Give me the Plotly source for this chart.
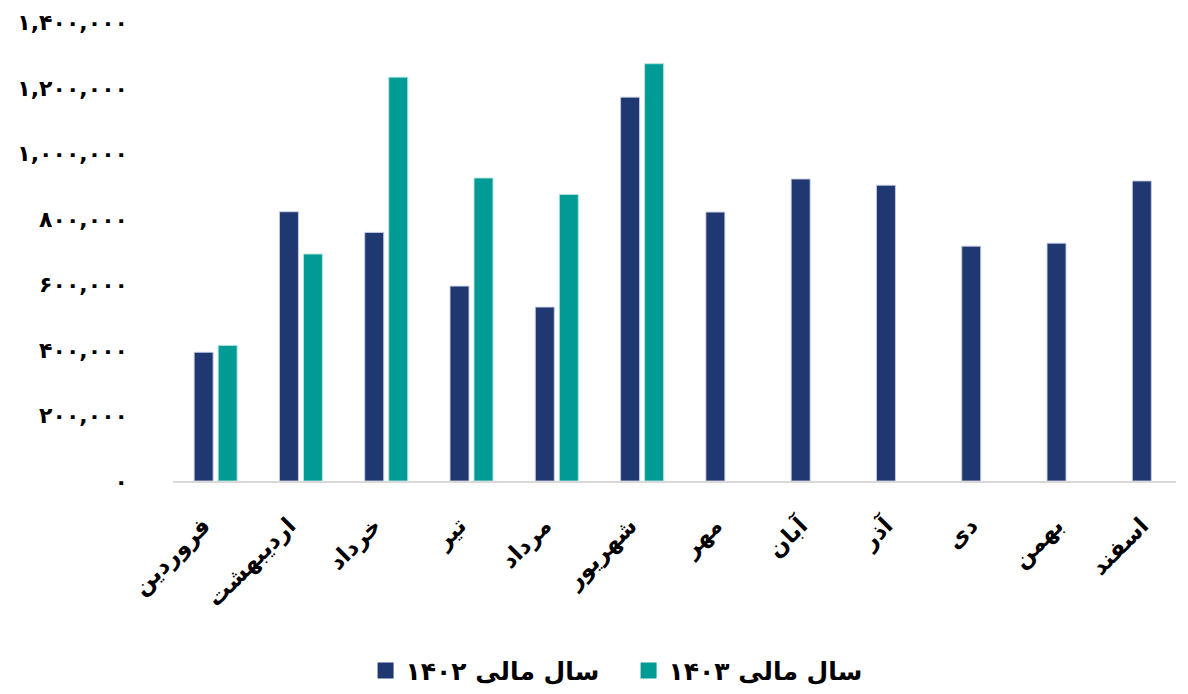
import plotly.graph_objects as go

months = ["فروردین", "اردیبهشت", "خرداد", "تیر", "مرداد", "شهریور",
          "مهر", "آبان", "آذر", "دی", "بهمن", "اسفند"]
sales_1402 = [393000, 822000, 759000, 595000, 531000, 1172000,
              821000, 922000, 903000, 717000, 726000, 916000]
sales_1403 = [414000, 693000, 1233000, 925000, 875000, 1274000,
              None, None, None, None, None, None]
series_names = ["سال مالی ۱۴۰۲", "سال مالی ۱۴۰۳"]
tick_values = [0, 200000, 400000, 600000, 800000, 1000000, 1200000, 1400000]
tick_labels = ["۰", "۲۰۰,۰۰۰", "۴۰۰,۰۰۰", "۶۰۰,۰۰۰", "۸۰۰,۰۰۰",
               "۱,۰۰۰,۰۰۰", "۱,۲۰۰,۰۰۰", "۱,۴۰۰,۰۰۰"]

NAVY = "#203871"
TEAL = "#009B94"
FONT = "DejaVu Sans"

x_idx = list(range(len(months)))

fig = go.Figure()
fig.add_trace(go.Bar(x=x_idx, y=sales_1402, name=series_names[0], showlegend=False,
                     marker=dict(color=NAVY, line=dict(color="rgba(200,205,225,0.9)", width=1))))
fig.add_trace(go.Bar(x=x_idx, y=sales_1403, name=series_names[1], showlegend=False,
                     marker=dict(color=TEAL, line=dict(color="rgba(180,230,225,0.9)", width=1))))
# legend-only entries (no marks) to get larger square swatches
for nm, col in zip(series_names, [NAVY, TEAL]):
    fig.add_trace(go.Scatter(x=[None], y=[None], mode="markers", name=nm,
                             marker=dict(symbol="square", size=22, color=col)))

fig.update_layout(
    width=1180, height=686,
    margin=dict(l=165, r=12, t=2, b=212),
    plot_bgcolor="white", paper_bgcolor="white",
    barmode="group", bargap=0.437, bargroupgap=0.21,
    font=dict(family=FONT, color="black"),
    showlegend=True,
    legend=dict(orientation="h", x=0.192, xanchor="left", y=-0.4485, yanchor="bottom",
                font=dict(size=25, family=FONT, weight="bold"),
                traceorder="normal", itemwidth=30, entrywidth=218),
)
fig.update_xaxes(
    tickmode="array", tickvals=x_idx, ticktext=months,
    range=[-0.5, 11.26], tickangle=-45, automargin=False,
    showline=True, linecolor="#D9D9D9", linewidth=2,
    showgrid=False, zeroline=False, ticks="",
    ticklabelstandoff=20, ticklabelshift=-12,
    tickfont=dict(size=23, family=FONT, weight="bold", color="black"),
)
fig.update_yaxes(
    tickmode="array", tickvals=tick_values, ticktext=tick_labels,
    range=[0, 1438000], automargin=False,
    showline=False, showgrid=False, zeroline=False, ticks="",
    ticklabelstandoff=44,
    tickfont=dict(size=22, family=FONT, weight="bold", color="black"),
)

fig.write_html("out.html")
